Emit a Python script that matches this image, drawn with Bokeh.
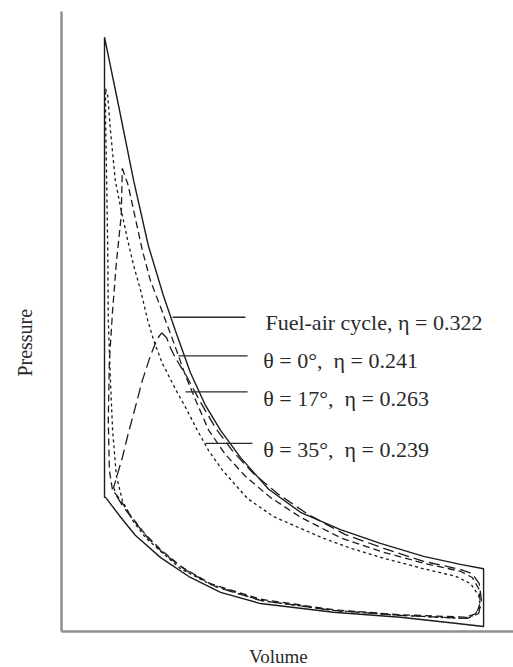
from bokeh.plotting import figure
from bokeh.models import Range1d, Label
from bokeh.embed import file_html
from bokeh.resources import INLINE
import math

# ---- data (volume relative to clearance volume, pressure in relative units) ----
fa_v = [1.00, 1.26, 1.54, 1.81, 2.09, 2.31, 2.59, 2.87, 3.15, 3.52, 4.04, 4.63, 5.37, 6.11, 6.91, 7.59, 8.02,
        8.02, 7.41, 6.48, 5.24, 3.89, 3.15, 2.59, 2.04, 1.57, 1.30, 1.02, 1.00, 1.00]
fa_p = [95.7, 84.7, 72.6, 62.2, 54.1, 48.5, 41.7, 36.4, 32.4, 28.0, 22.9, 19.2, 16.4, 14.2, 12.1, 10.8, 10.1,
        0.8, 1.4, 2.3, 3.1, 4.5, 6.3, 8.7, 11.9, 15.5, 18.4, 21.6, 21.6, 95.7]

t0_v = [2.06, 2.15, 2.22, 2.31, 2.52, 2.78, 3.06, 3.37, 3.74, 4.22, 4.78, 5.46, 6.17, 6.91, 7.59, 7.81, 7.94,
        7.98, 7.93, 7.72, 6.48, 5.24, 3.89, 3.06, 2.52, 2.09, 1.80, 1.54, 1.33, 1.22, 1.17, 1.26, 1.33, 1.44,
        1.57, 1.70, 1.85, 1.98, 2.06]
t0_p = [48.1, 47.3, 45.7, 44.1, 41.1, 36.9, 32.7, 29.1, 25.6, 22.1, 18.8, 15.6, 13.4, 11.3, 10.0, 9.3, 7.7,
        5.0, 2.9, 2.1, 2.6, 3.4, 5.0, 7.2, 9.8, 12.6, 15.1, 17.9, 20.3, 21.9, 23.2, 25.9, 28.0, 31.9,
        36.1, 40.4, 44.4, 47.2, 48.1]

t17_v = [1.33, 1.44, 1.56, 1.70, 1.85, 2.04, 2.22, 2.37, 2.50, 2.69, 2.93, 3.24, 3.61, 4.07, 4.63, 5.37, 6.11,
         6.91, 7.59, 7.81, 7.93, 7.96, 7.89, 7.69, 6.48, 5.24, 3.89, 2.96, 2.41, 2.04, 1.76, 1.48, 1.26, 1.15,
         1.09, 1.07, 1.09, 1.15, 1.22, 1.31, 1.33]
t17_p = [74.6, 71.8, 67.0, 61.4, 56.5, 52.2, 48.0, 44.4, 41.2, 37.2, 32.4, 28.5, 25.0, 21.6, 18.4, 15.1, 12.9,
         11.0, 9.7, 8.7, 6.9, 4.7, 2.9, 2.3, 2.7, 3.5, 5.2, 7.7, 10.5, 13.2, 15.6, 18.7, 21.6, 22.7,
         25.9, 34.0, 43.6, 51.7, 59.4, 67.0, 74.6]

t35_v = [1.02, 1.06, 1.11, 1.20, 1.31, 1.43, 1.54, 1.67, 1.80, 1.91, 2.07, 2.31, 2.50, 2.72, 2.93, 3.19, 3.65,
         4.13, 4.63, 5.06, 5.56, 6.17, 6.91, 7.50, 7.78, 7.93, 7.96, 7.85, 7.63, 6.48, 5.24, 3.89, 2.96, 2.41,
         2.04, 1.76, 1.52, 1.33, 1.22, 1.15, 1.11, 1.07, 1.06, 1.04, 1.02, 1.02]
t35_p = [87.4, 86.3, 80.7, 72.6, 67.8, 63.0, 58.9, 54.9, 50.1, 46.9, 43.2, 39.1, 36.1, 32.4, 29.1, 25.9, 21.4,
         18.5, 16.6, 15.0, 13.4, 11.8, 10.1, 8.9, 7.7, 5.8, 4.0, 2.6, 2.1, 2.6, 3.4, 5.0, 7.6, 10.1,
         12.9, 15.1, 17.9, 21.1, 25.1, 32.4, 40.4, 50.1, 61.4, 72.6, 82.3, 87.4]

NB = "\u00a0"
labels = ["Fuel-air cycle, \u03b7 = 0.322",
          "\u03b8 = 0\u00b0," + NB + NB + "\u03b7 = 0.241",
          "\u03b8 = 17\u00b0," + NB + NB + "\u03b7 = 0.263",
          "\u03b8 = 35\u00b0," + NB + NB + "\u03b7 = 0.239"]
leader_v0 = [2.26, 2.37, 2.50, 2.87]
leader_v1 = [3.61, 3.65, 3.65, 3.74]
leader_p = [50.6, 44.4, 38.6, 30.3]
label_v = [3.98, 3.94, 3.94, 3.94]
label_p = [49.8, 43.6, 37.5, 29.3]

# axis extents (volume / pressure of the drawn axis lines)
axis_v0, axis_v1 = 0.204, 8.574
axis_p0, axis_p1 = 0.0, 99.84

FONT = "Liberation Serif"
INK = "#1c1c1c"
TXT = "#2a2a2a"

p = figure(width=513, height=667, output_backend="svg", toolbar_location=None,
           x_range=Range1d(-0.926, 8.574), y_range=Range1d(-5.797, 101.61),
           x_axis_location=None, y_axis_location=None,
           min_border_left=0, min_border_right=0, min_border_top=0, min_border_bottom=0)
p.grid.visible = False
p.outline_line_color = None
p.background_fill_color = "white"
p.border_fill_color = "white"

# axes
p.segment(x0=[axis_v0, axis_v0], y0=[axis_p0, axis_p0], x1=[axis_v0, axis_v1], y1=[axis_p1, axis_p0],
          line_color="#8f8f8f", line_width=2.5)

p.line(fa_v, fa_p, line_color=INK, line_width=1.4)
p.line(t0_v, t0_p, line_color=INK, line_width=1.3, line_dash="11 5")
p.line(t17_v, t17_p, line_color=INK, line_width=1.3, line_dash="7 4")
p.line(t35_v, t35_p, line_color=INK, line_width=1.3, line_dash="3 3")

p.segment(x0=leader_v0, y0=leader_p, x1=leader_v1, y1=leader_p, line_color=TXT, line_width=1.3)

for t, x, y in zip(labels, label_v, label_p):
    p.add_layout(Label(x=x, y=y, text=t, text_font=FONT, text_font_size="22px",
                       text_color=TXT, text_align="left", text_baseline="alphabetic"))

p.add_layout(Label(x=4.22, y=-4.05, text="Volume", text_font=FONT, text_font_size="19px",
                   text_color=TXT, text_align="center", text_baseline="middle"))
p.add_layout(Label(x=-0.465, y=46.5, text="Pressure", text_font=FONT, text_font_size="20px",
                   text_color=TXT, text_align="center", text_baseline="middle",
                   angle=math.pi / 2))

open("out.html", "w").write(file_html(p, INLINE))
